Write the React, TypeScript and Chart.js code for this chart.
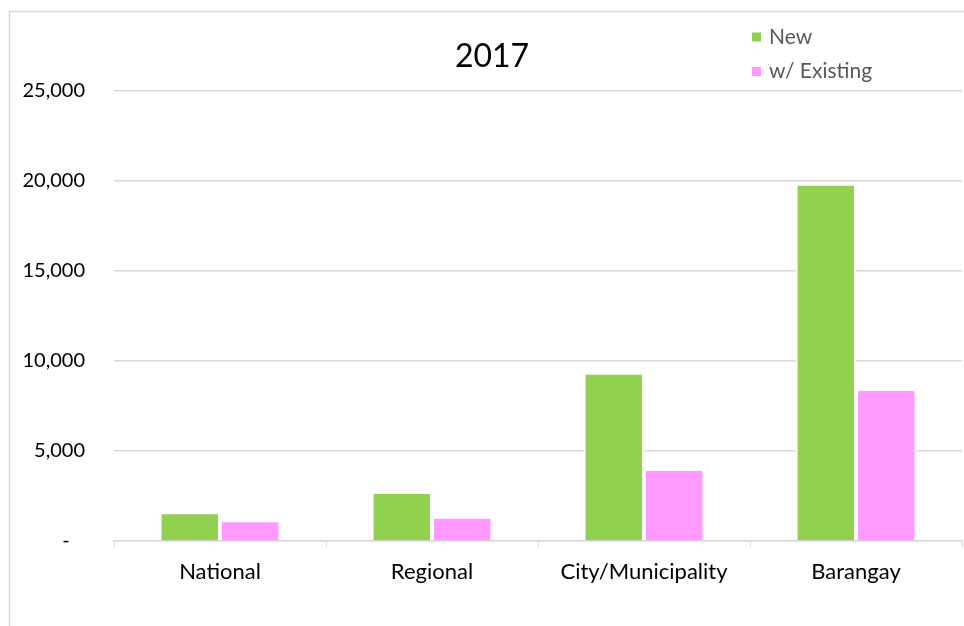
import React, { useEffect, useRef } from "react";
import { Chart, registerables } from "chart.js";

Chart.register(...registerables);

const categories = ["National", "Regional", "City/Municipality", "Barangay"];
const seriesNames = ["New", "w/ Existing"];
const newValues = [1600, 2720, 9350, 19850];
const existingValues = [1150, 1350, 4000, 8450];
const yTicks = [0, 5000, 10000, 15000, 20000, 25000];
const titleText = "2017";

const GREEN = "#92D050";
const PINK = "#FF99FF";
const GRID = "#d9d9d9";
const FONT = "Lato";

const overlayPlugin = {
  id: "overlay",
  beforeDraw(chart: any) {
    const ctx = chart.ctx;
    ctx.save();
    ctx.fillStyle = "#ffffff";
    ctx.fillRect(0, 0, chart.width, chart.height);
    ctx.strokeStyle = GRID;
    ctx.lineWidth = 1.5;
    ctx.strokeRect(9.5, 11.5, chart.width + 20, chart.height + 20);
    ctx.restore();
  },
  afterDraw(chart: any) {
    const ctx = chart.ctx;
    ctx.save();
    ctx.fillStyle = "#000000";
    ctx.font = `32px ${FONT}`;
    ctx.textAlign = "center";
    ctx.textBaseline = "alphabetic";
    ctx.fillText(titleText, 492, 67);

    ctx.font = `21px ${FONT}`;
    ctx.textAlign = "left";
    const colors = [GREEN, PINK];
    const rows = [37, 71.5];
    seriesNames.forEach((name, i) => {
      ctx.fillStyle = colors[i];
      ctx.fillRect(752, rows[i] - 4.5, 9, 9);
      ctx.fillStyle = "#595959";
      ctx.textBaseline = "middle";
      ctx.fillText(name, 769, rows[i]);
    });
    ctx.restore();
  },
};

export default function App() {
  const ref = useRef<HTMLCanvasElement | null>(null);

  useEffect(() => {
    if (!ref.current) return;
    const chart = new Chart(ref.current, {
      type: "bar",
      data: {
        labels: categories,
        datasets: [
          {
            label: seriesNames[0],
            data: newValues,
            backgroundColor: GREEN,
            borderColor: "#ffffff",
            borderWidth: 2,
          },
          {
            label: seriesNames[1],
            data: existingValues,
            backgroundColor: PINK,
            borderColor: "#ffffff",
            borderWidth: 2,
          },
        ],
      },
      options: {
        responsive: false,
        animation: false,
        layout: { padding: { left: 0, right: 2, top: 91, bottom: 0 } },
        datasets: {
          bar: { categoryPercentage: 0.57, barPercentage: 1 },
        },
        plugins: {
          legend: { display: false },
          title: { display: false },
          tooltip: { enabled: false },
        },
        scales: {
          x: {
            grid: {
              display: true,
              drawOnChartArea: false,
              drawTicks: true,
              tickLength: 6,
              color: GRID,
              offset: true,
            },
            border: { display: true, color: GRID, width: 1.5 },
            ticks: {
              color: "#000000",
              font: { family: FONT, size: 22 },
              padding: 12,
              maxRotation: 0,
              autoSkip: false,
            },
            afterFit: (s: any) => {
              s.height = 85;
            },
          },
          y: {
            min: 0,
            max: 25000,
            afterBuildTicks: (s: any) => {
              s.ticks = yTicks.map((v) => ({ value: v }));
            },
            grid: { color: GRID, lineWidth: 1.5, drawTicks: false },
            border: { display: false },
            ticks: {
              color: "#000000",
              font: { family: FONT, size: 20 },
              padding: 29,
              callback: (v: any) =>
                Number(v) === 0 ? "-   " : Number(v).toLocaleString("en-US"),
            },
            afterFit: (s: any) => {
              s.width = 114;
            },
          },
        },
      },
      plugins: [overlayPlugin],
    });
    return () => chart.destroy();
  }, []);

  return (
    <div style={{ position: "fixed", left: 0, top: 0, width: 964, height: 626 }}>
      <canvas ref={ref} width={964} height={626} style={{ width: 964, height: 626, display: "block" }} />
    </div>
  );
}
